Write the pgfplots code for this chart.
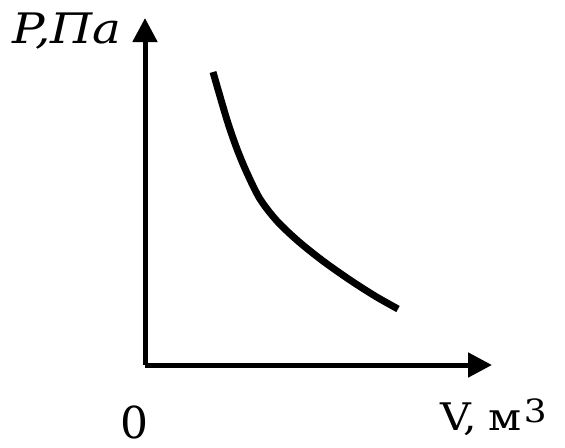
\documentclass[border=0pt]{standalone}
\usepackage{pgfplots}
\pgfplotsset{compat=1.18}
\usetikzlibrary{arrows.meta}
\usepackage{fontspec}
\setmainfont{DejaVu Serif}
\begin{document}
\begin{tikzpicture}
\begin{axis}[
  scale only axis,
  width=173.5pt, height=173.5pt,
  xmin=0, xmax=347, ymin=0, ymax=347,
  axis lines=left,
  axis line style={line width=2.5pt, -{Triangle[length=12pt,width=12pt]}},
  xtick=\empty, ytick=\empty,
  clip=false,
]
% bounding box of the figure
\path (axis cs:-145,-82) rectangle (axis cs:420,365);
% pressure against volume
\addplot[smooth, line width=3.5pt, black] coordinates {
  (68,293) (82,245) (92,216) (102,192) (115,166) (132,144)
  (153,124) (178,104) (205,85) (230,69) (253,56)
};
\node[font=\fontsize{21}{25}\selectfont\itshape, anchor=base west, inner sep=0pt] at (axis cs:-133,322) {\scalebox{1.15}[1]{P,Па}};
\node[font=\fontsize{22}{26}\selectfont, anchor=base, inner sep=0pt] at (axis cs:-10.5,-73) {0};
\node[font=\fontsize{19}{23}\selectfont, anchor=base west, inner sep=0pt] at (axis cs:295,-65) {\scalebox{1.12}[1]{V,\hspace{5pt}м\hspace{1pt}\raisebox{4pt}{\fontsize{16}{19}\selectfont 3}}};
\end{axis}
\end{tikzpicture}
\end{document}
